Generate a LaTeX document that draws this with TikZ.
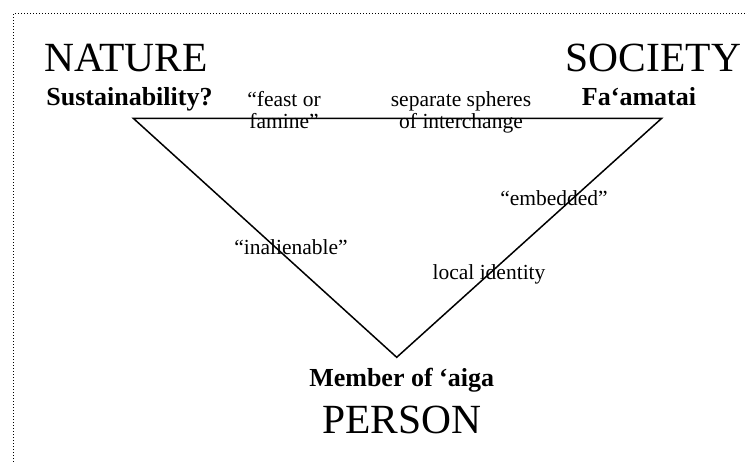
\documentclass[tikz,border=0pt]{standalone}
\usepackage{fontspec}
\setmainfont{Liberation Serif}
\begin{document}
\begin{tikzpicture}[x=1pt,y=-1pt,
  big/.style={inner sep=0pt,anchor=base,font=\fontsize{41.5}{44}\selectfont},
  boldlab/.style={inner sep=0pt,anchor=base,font=\fontsize{26}{28}\selectfont\bfseries},
  small/.style={inner sep=0pt,anchor=base,align=center,font=\fontsize{21.5}{22.5}\selectfont},
  edge/.style={line width=1.5pt},
  border/.style={line width=1pt,dash pattern=on 1pt off 2pt}]
\useasboundingbox (0,0) rectangle (747,462);
% border
\coordinate (bl) at (13,462);
\coordinate (tl) at (13,14);
\coordinate (tr) at (747,14);
\draw[border] (bl) -- (tl) -- (tr);
% triangle
\coordinate (nat) at (133.3,118.3);
\coordinate (soc) at (661.7,118.3);
\coordinate (per) at (396.7,357.3);
\draw[edge,line join=miter] (nat) -- (soc) -- (per) -- cycle;
% labels
\node[big] (nature) at (126,72) {NATURE};
\node[big] (society) at (653.5,72) {SOCIETY};
\node[boldlab] (sust) at (129.5,106) {Sustainability?};
\node[boldlab] (fa) at (639,106) {Fa‘amatai};
\node[small] (feast) at (284,129) {“feast or\\famine”};
\node[small] (spheres) at (461,129) {separate spheres\\of interchange};
\node[small] (embedded) at (554,206) {“embedded”};
\node[small] (inal) at (291,255) {“inalienable”};
\node[small] (local) at (489,280) {local identity};
\node[boldlab] (member) at (401.7,386.7) {Member of ‘aiga};
\node[big] (person) at (402,433.3) {PERSON};
\end{tikzpicture}
\end{document}
